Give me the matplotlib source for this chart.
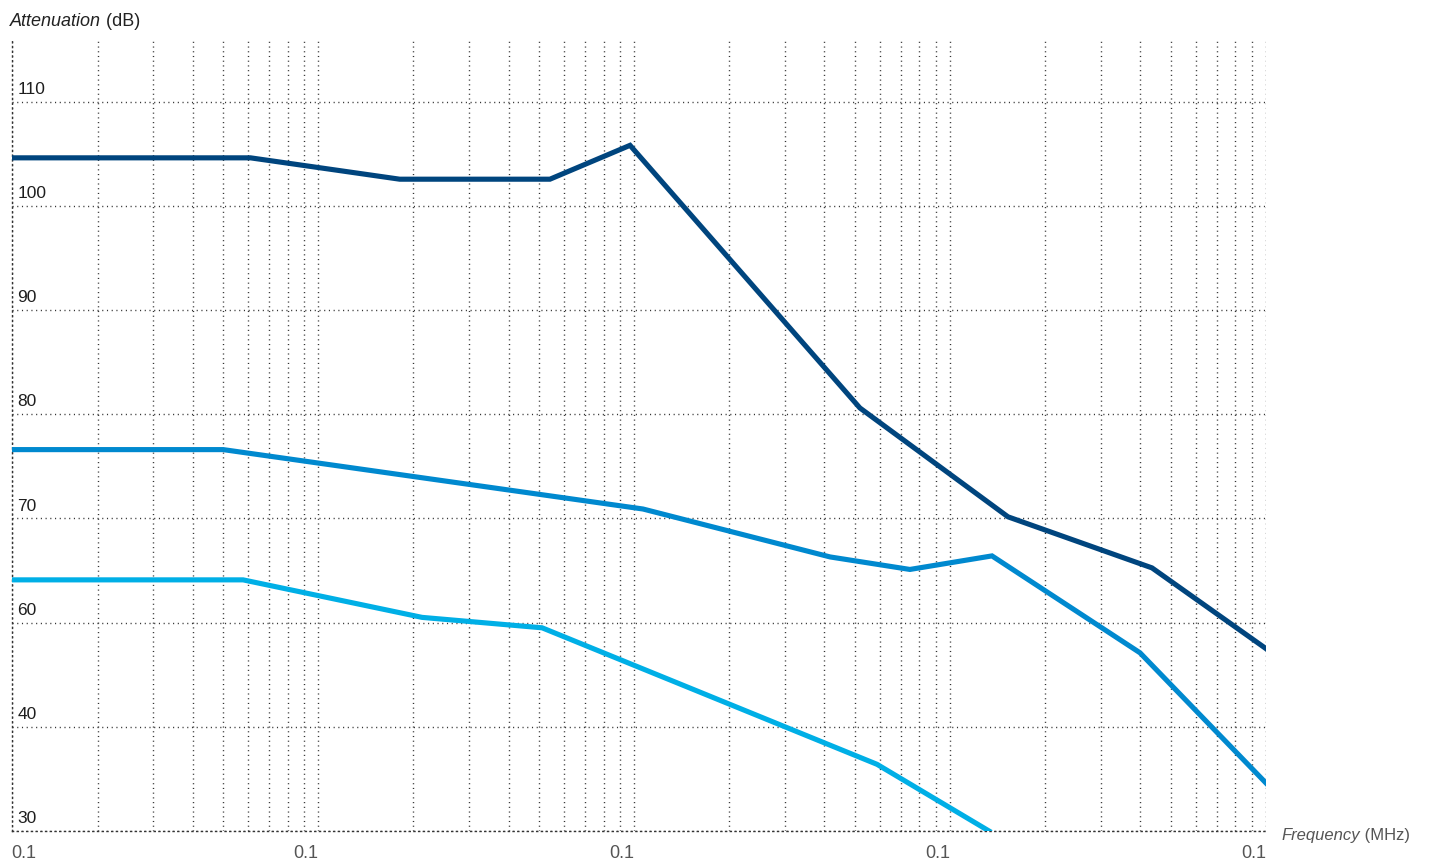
import matplotlib
matplotlib.use("Agg")
import matplotlib.pyplot as plt
from matplotlib.ticker import LogLocator, NullFormatter

plt.rcParams['font.family'] = ['Liberation Sans', 'DejaVu Sans']

# ---- data (frequency, attenuation in plot units) ----
dark_x = [1.07, 6.1, 18.1, 54.1, 97, 518, 1525, 4356, 10000]
dark_y = [104.6, 104.6, 102.55, 102.55, 105.8, 80.6, 70.15, 65.25, 57.5]

mid_x = [1.07, 5.0, 106.6, 417, 746, 1357, 3992, 10000]
mid_y = [76.6, 76.6, 70.9, 66.3, 65.1, 66.4, 57.1, 44.6]

light_x = [1.07, 5.78, 21.3, 51.1, 587, 1328]
light_y = [64.1, 64.1, 60.5, 59.5, 46.4, 40.0]

y_grid = [40, 50, 60, 70, 80, 90, 100, 110]
y_labels = ["30", "40", "60", "70", "80", "90", "100", "110"]
x_ticks = [1.07, 10, 100, 1000, 10000]
x_labels = ["0.1", "0.1", "0.1", "0.1", "0.1"]

c_dark = '#00457e'
c_mid = '#0089cf'
c_light = '#00afe6'

fig = plt.figure(figsize=(14.29, 8.61), dpi=100)
ax = fig.add_axes([11.7/1429, 1-831/861, (1266-11.7)/1429, (831-38)/861])

ax.set_xscale('log')
ax.set_xlim(1.07, 10000)
ax.set_ylim(40, 116.1)

ax.plot(dark_x, dark_y, color=c_dark, lw=3.7, solid_joinstyle='miter', zorder=3)
ax.plot(mid_x, mid_y, color=c_mid, lw=3.7, solid_joinstyle='miter', zorder=3)
ax.plot(light_x, light_y, color=c_light, lw=3.7, solid_joinstyle='miter', zorder=3)

dot = (0, (0.8, 2.6))
ax.set_xticks(x_ticks)
ax.set_xticklabels(x_labels)
ax.xaxis.set_minor_locator(LogLocator(base=10, subs=range(2, 10)))
ax.xaxis.set_minor_formatter(NullFormatter())
ax.set_yticks(y_grid)
ax.set_yticklabels([])
ax.grid(True, which='both', axis='x', color='#333333', lw=1.0, ls=dot)
ax.grid(True, which='major', axis='y', color='#333333', lw=1.0, ls=dot)
ax.tick_params(axis='both', which='both', length=0)
ax.tick_params(axis='x', pad=10, labelsize=13, labelcolor='#555555')

for i, lab in enumerate(ax.get_xticklabels()):
    lab.set_horizontalalignment('left' if i == 0 else 'right')

for s in ['top', 'right']:
    ax.spines[s].set_visible(False)
for s in ['left', 'bottom']:
    ax.spines[s].set_linestyle(dot)
    ax.spines[s].set_color('#333333')
    ax.spines[s].set_linewidth(1.0)

for v, lab in zip(y_grid, y_labels):
    ax.text(0.0045, v + 0.45, lab, transform=ax.get_yaxis_transform(),
            ha='left', va='bottom', fontsize=12.5, color='#1e1e1e')

t1 = fig.text(10/1429, 1-26/861, 'Attenuation', fontsize=13, style='italic',
              color='#222222', va='baseline', ha='left')
ax.annotate(' (dB)', xy=(1, 0), xycoords=t1, va='bottom', ha='left',
            fontsize=13, color='#222222', annotation_clip=False)

t2 = fig.text(1281/1429, 1-840/861, 'Frequency', fontsize=12, style='italic',
              color='#555555', va='baseline', ha='left')
ax.annotate(' (MHz)', xy=(1, 0), xycoords=t2, va='bottom', ha='left',
            fontsize=12, color='#555555', annotation_clip=False)

fig.savefig('out.png', dpi=100)
